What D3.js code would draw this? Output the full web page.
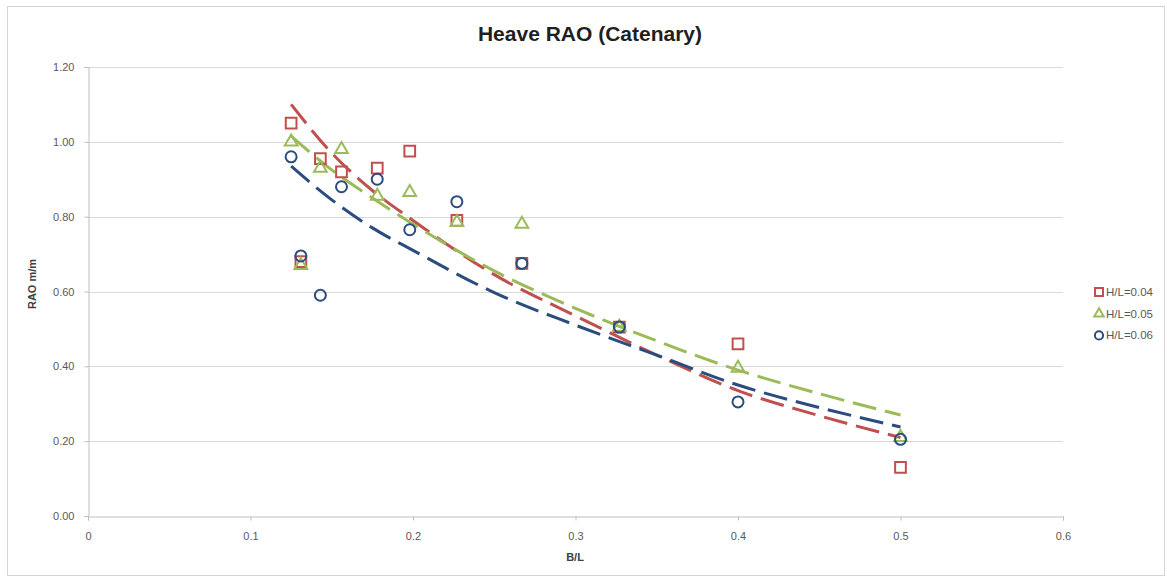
<!DOCTYPE html>
<html>
<head>
<meta charset="utf-8">
<script src="https://cdn.jsdelivr.net/npm/d3@7"></script>
<style>
  html, body { margin: 0; padding: 0; background: #fff; }
  svg { display: block; }
  text { font-family: "Liberation Sans", Arial, sans-serif; }
</style>
</head>
<body>
<svg id="chart" width="1167" height="579"></svg>
<script>
// Measured B/L ratios (shared by all three wave steepness cases)
const bl = [0.125, 0.131, 0.143, 0.156, 0.178, 0.198, 0.227, 0.267, 0.327, 0.4, 0.5];

// Heave RAO (m/m) for each wave steepness H/L
const raoH004 = [1.05, 0.68, 0.955, 0.92, 0.93, 0.975, 0.79, 0.675, 0.505, 0.46, 0.13];
const raoH005 = [1.00, 0.67, 0.93, 0.98, 0.855, 0.865, 0.785, 0.78, 0.505, 0.395, 0.21];
const raoH006 = [0.96, 0.695, 0.59, 0.88, 0.90, 0.765, 0.84, 0.675, 0.505, 0.305, 0.205];

// Trend curves (logarithmic fits) sampled along B/L
const trendX = [0.125, 0.15, 0.175, 0.2, 0.25, 0.3, 0.35, 0.4, 0.45, 0.5];
const trendH004 = [1.10, 0.97, 0.87, 0.79, 0.645, 0.535, 0.43, 0.335, 0.268, 0.21];
const trendH005 = [1.015, 0.925, 0.85, 0.78, 0.655, 0.555, 0.468, 0.39, 0.327, 0.27];
const trendH006 = [0.935, 0.845, 0.77, 0.71, 0.597, 0.51, 0.43, 0.35, 0.29, 0.238];

const seriesNames = ["H/L=0.04", "H/L=0.05", "H/L=0.06"];
const xTicks = [0, 0.1, 0.2, 0.3, 0.4, 0.5, 0.6];
const yTicks = [0, 0.2, 0.4, 0.6, 0.8, 1.0, 1.2];

const series = [
  { name: seriesNames[0], values: raoH004, trend: trendH004, color: "#C0504D", symbol: d3.symbolSquare, size: 115 },
  { name: seriesNames[1], values: raoH005, trend: trendH005, color: "#9BBB59", symbol: d3.symbolTriangle, size: 70 },
  { name: seriesNames[2], values: raoH006, trend: trendH006, color: "#2B4C7E", symbol: d3.symbolCircle, size: 95 }
];

const svg = d3.select("#chart");
const plot = { left: 88, right: 1063, top: 67, bottom: 516 };

// chart area border
svg.append("rect")
  .attr("x", 7.5).attr("y", 6.5)
  .attr("width", 1157).attr("height", 569)
  .attr("fill", "#fff").attr("stroke", "#d4d4d4");

const x = d3.scaleLinear().domain([0, 0.6]).range([plot.left, plot.right]);
const y = d3.scaleLinear().domain([0, 1.2]).range([plot.bottom, plot.top]);

// horizontal gridlines
svg.append("g")
  .selectAll("line")
  .data(yTicks.filter(v => v > 0))
  .join("line")
  .attr("x1", plot.left).attr("x2", plot.right)
  .attr("y1", d => Math.round(y(d)) + 0.5).attr("y2", d => Math.round(y(d)) + 0.5)
  .attr("stroke", "#d9d9d9").attr("stroke-width", 1);

// axes
const xAxis = svg.append("g")
  .attr("transform", `translate(0,${Math.round(plot.bottom) + 0.5})`)
  .call(d3.axisBottom(x).tickValues(xTicks).tickFormat(d3.format("")).tickSize(4).tickPadding(12));
const yAxis = svg.append("g")
  .attr("transform", `translate(${plot.left + 0.5},0)`)
  .call(d3.axisLeft(y).tickValues(yTicks).tickFormat(d3.format(".2f")).tickSize(4).tickPadding(10));

[xAxis, yAxis].forEach(g => {
  g.select(".domain").attr("stroke", "#bfbfbf");
  g.selectAll(".tick line").attr("stroke", "#bfbfbf");
  g.selectAll(".tick text")
    .attr("fill", "#595959")
    .style("font-size", "11px")
    .style("font-family", "'Liberation Sans', Arial, sans-serif");
});

// trend curves
const line = d3.line()
  .x((d, i) => x(trendX[i]))
  .y(d => y(d))
  .curve(d3.curveMonotoneX);

svg.append("g")
  .selectAll("path")
  .data(series)
  .join("path")
  .attr("d", d => line(d.trend))
  .attr("fill", "none")
  .attr("stroke", d => d.color)
  .attr("stroke-width", 3)
  .attr("stroke-dasharray", "24,9");

// markers
series.forEach(s => {
  svg.append("g")
    .selectAll("path")
    .data(s.values)
    .join("path")
    .attr("transform", (d, i) => `translate(${x(bl[i])},${y(d)})`)
    .attr("d", d3.symbol().type(s.symbol).size(s.size))
    .attr("fill", "none")
    .attr("stroke", s.color)
    .attr("stroke-width", 2);
});

// title
svg.append("text")
  .attr("x", 590).attr("y", 41)
  .attr("text-anchor", "middle")
  .attr("fill", "#1f1f1f")
  .style("font-size", "21px")
  .style("font-weight", "bold")
  .text("Heave RAO (Catenary)");

// axis titles
svg.append("text")
  .attr("x", 575).attr("y", 561)
  .attr("text-anchor", "middle")
  .attr("fill", "#404040")
  .style("font-size", "11px")
  .style("font-weight", "bold")
  .text("B/L");

svg.append("text")
  .attr("transform", "translate(36,284) rotate(-90)")
  .attr("text-anchor", "middle")
  .attr("fill", "#404040")
  .style("font-size", "11px")
  .style("font-weight", "bold")
  .text("RAO m/m");

// legend
const legend = svg.append("g").attr("transform", "translate(1099,292)");
const items = legend.selectAll("g")
  .data(series)
  .join("g")
  .attr("transform", (d, i) => `translate(0,${i * 21.7})`);
items.append("path")
  .attr("d", d => d3.symbol().type(d.symbol).size(d.size * 0.55)())
  .attr("fill", "none")
  .attr("stroke", d => d.color)
  .attr("stroke-width", 2);
items.append("text")
  .attr("x", 7).attr("y", 4)
  .attr("fill", "#595959")
  .style("font-size", "11.5px")
  .text(d => d.name);
</script>
</body>
</html>
